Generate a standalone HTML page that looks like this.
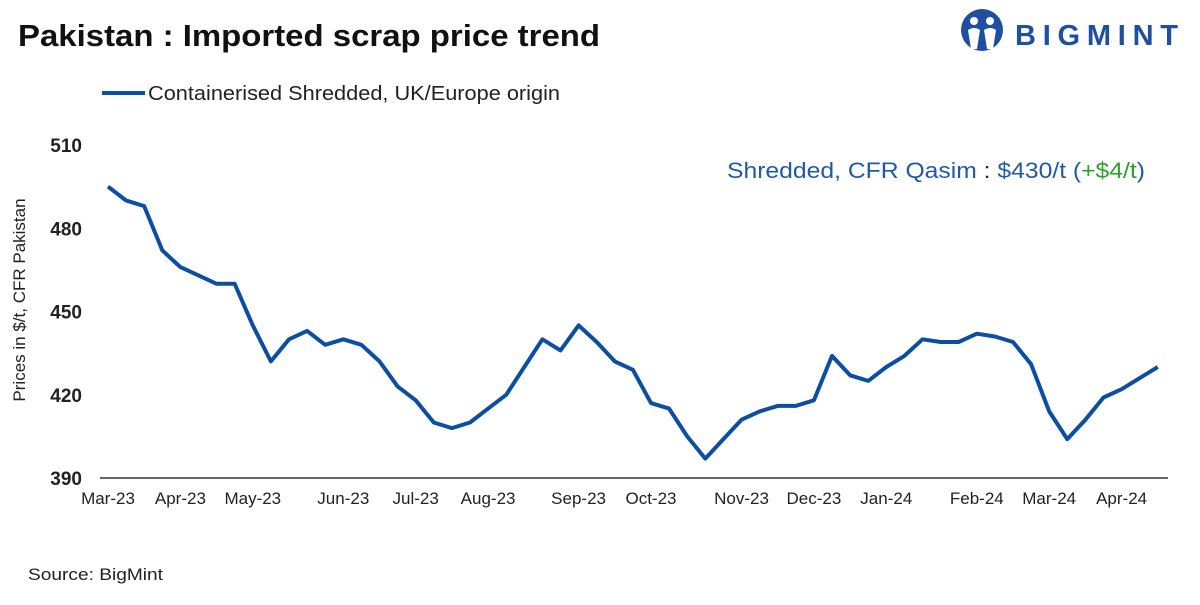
<!DOCTYPE html>
<html><head><meta charset="utf-8"><style>
body{margin:0;width:1200px;height:600px;background:#fff;font-family:"Liberation Sans",sans-serif;overflow:hidden}
</style></head><body>
<svg width="1200" height="600" xmlns="http://www.w3.org/2000/svg">
<text x="18" y="46" font-size="31" font-weight="bold" fill="#111" textLength="582" lengthAdjust="spacingAndGlyphs">Pakistan : Imported scrap price trend</text>
<g>
<circle cx="982" cy="30" r="21" fill="#1f4fa0"/>
<circle cx="974" cy="21" r="4" fill="#fff"/><circle cx="990" cy="21" r="4" fill="#fff"/>
<path d="M968 30 Q974 26 980 30 L977 49 L971 49 Z M984 30 Q990 26 996 30 L993 49 L987 49 Z" fill="#fff"/>
<text x="1015" y="45" font-size="29" font-weight="bold" fill="#1f4fa0" textLength="163" lengthAdjust="spacing">BIGMINT</text>
</g>
<line x1="102" y1="93" x2="145" y2="93" stroke="#0b4ea2" stroke-width="4"/>
<text x="148" y="100" font-size="20" fill="#222" textLength="412" lengthAdjust="spacingAndGlyphs">Containerised Shredded, UK/Europe origin</text>
<text transform="translate(25,300) rotate(-90)" text-anchor="middle" font-size="17" fill="#222">Prices in $/t, CFR Pakistan</text>
<text x="727" y="178" font-size="22" textLength="418" lengthAdjust="spacingAndGlyphs"><tspan fill="#1f5aa8">Shredded, CFR Qasim</tspan><tspan fill="#222"> : </tspan><tspan fill="#1f5aa8">$430/t (</tspan><tspan fill="#2aa12a">+$4/t</tspan><tspan fill="#1f5aa8">)</tspan></text>
<g id="axes"></g>
<path id="line" fill="none" stroke="#0b4ea2" stroke-width="4" stroke-linejoin="round"/>
<text x="28" y="580" font-size="17" fill="#222" textLength="135" lengthAdjust="spacingAndGlyphs">Source: BigMint</text>
</svg>
<script>
const values=[495,490,488,472,466,463,460,460,445,432,440,443,438,440,438,432,423,418,410,408,410,415,420,430,440,436,445,439,432,429,417,415,405,397,404,411,414,416,416,418,434,427,425,430,434,440,439,439,442,441,439,431,414,404,411,419,422,426,430];
const xLabels=["Mar-23","Apr-23","May-23","Jun-23","Jul-23","Aug-23","Sep-23","Oct-23","Nov-23","Dec-23","Jan-24","Feb-24","Mar-24","Apr-24"];
const xLabelIdx=[0,4,8,13,17,21,26,30,35,39,43,48,52,56];
const yTicks=[390,420,450,480,510];
const x0=108,dx=18.1,yMin=390,yMax=510,yTop=145,yBot=478;
const X=i=>x0+dx*i, Y=v=>yBot-(v-yMin)/(yMax-yMin)*(yBot-yTop);
const NS="http://www.w3.org/2000/svg",ax=document.getElementById('axes');
function mk(t,a,txt){const e=document.createElementNS(NS,t);for(const k in a)e.setAttribute(k,a[k]);if(txt!=null)e.textContent=txt;ax.appendChild(e);return e;}
const base=mk('line',{x1:100,x2:1168,y1:yBot,y2:yBot,stroke:'#333','stroke-width':1.5});


yTicks.forEach(v=>{const t=mk('text',{x:82,y:Y(v)+7,'text-anchor':'end','font-size':19,'font-weight':'bold',fill:'#222'},v);

});
xLabels.forEach((l,k)=>{const t=mk('text',{x:X(xLabelIdx[k]),y:504,'text-anchor':'middle','font-size':17,fill:'#222'},l);

});
document.getElementById('line').setAttribute('d',values.map((v,i)=>(i?'L':'M')+X(i).toFixed(1)+' '+Y(v).toFixed(1)).join(' '));
</script>
</body></html>
